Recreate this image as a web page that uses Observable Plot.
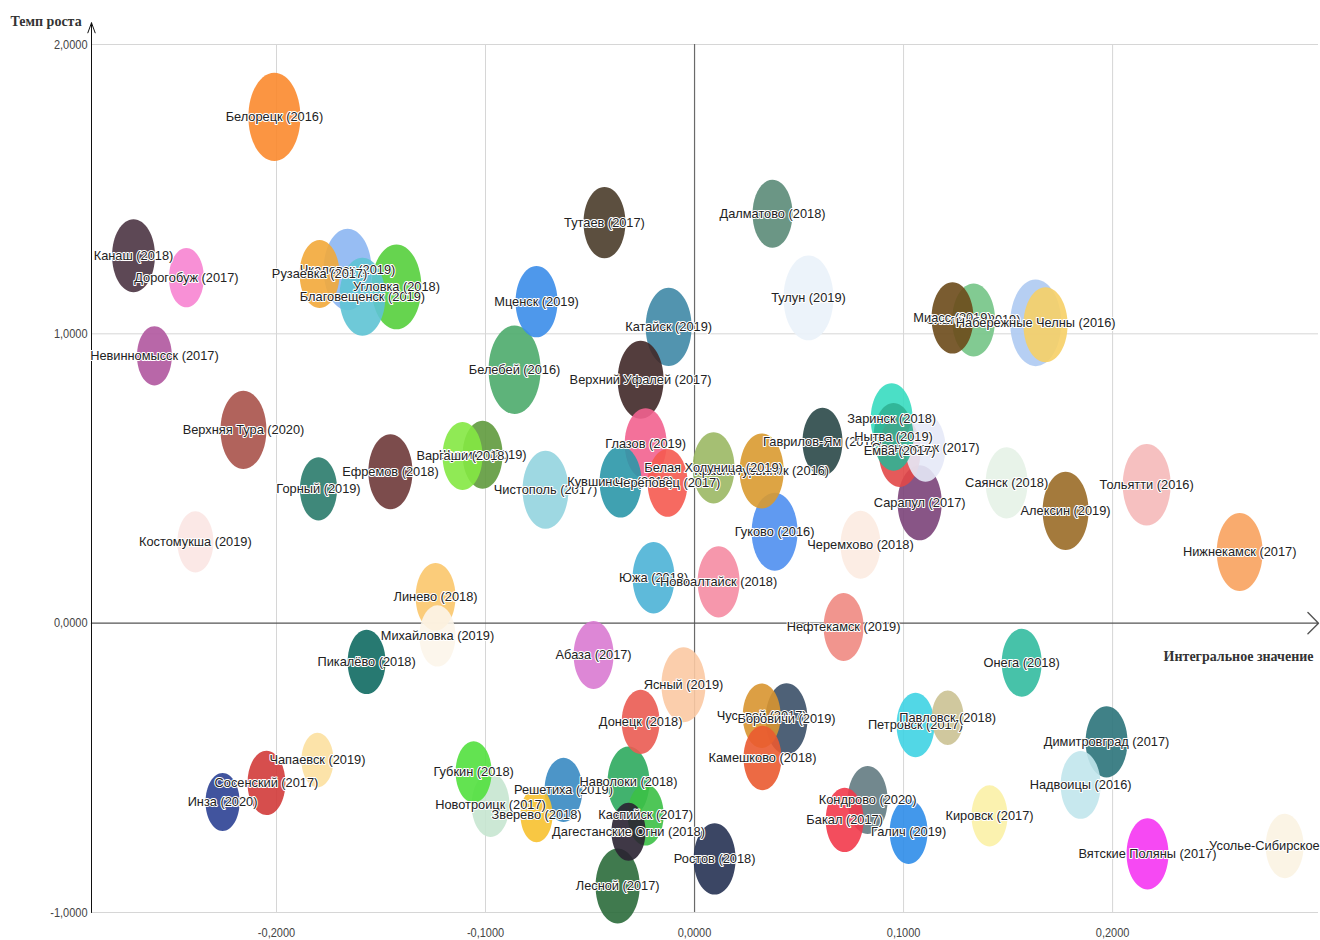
<!DOCTYPE html>
<html><head><meta charset="utf-8">
<script src="https://cdn.jsdelivr.net/npm/d3@7"></script>
<script src="https://cdn.jsdelivr.net/npm/@observablehq/plot@0.6"></script>
<style>html,body{margin:0;padding:0;background:#fff;overflow:hidden}</style>
</head><body><div id="chart"></div>
<script>
// ---- data ----
const xTitle = "Интегральное значение";
const yTitle = "Темп роста";
const xTicks = [-0.2, -0.1, 0, 0.1, 0.2];
const yTicks = [-1, 0, 1, 2];
const xDomain = [-0.2885, 0.2985];
const yDomain = [-1, 2];
const yArrowTop = 2.075;

const names = ["Белорецк","Канаш","Дорогобуж","Чкаловск","Рузаевка","Благовещенск","Угловка","Невинномысск","Верхняя Тура","Горный",
"Ефремов","Костомукша","Шумиха","Варгаши","Чистополь","Линево","Белебей","Мценск","Тутаев","Катайск",
"Верхний Уфалей","Глазов","Кувшиново","Череповец","Краснотурьинск","Белая Холуница","Гаврилов-Ям","Заринск","Сосногорск","Нытва",
"Емва","Сарапул","Саянск","Гуково","Черемхово","Тольятти","Алексин","Нижнекамск","Златоуст","Миасс",
"","Набережные Челны","Тулун","Далматово","Южа","Новоалтайск","Нефтекамск","Михайловка","Пикалёво","Абаза",
"Ясный","Донецк","Чусовой","Боровичи","Камешково","Губкин","Новотроицк","Зверево","Решетиха","Наволоки",
"Каспийск","Дагестанские Огни","Лесной","Ростов","Бакал","Кондрово","Галич","Петровск","Павловск","Кировск",
"Онега","Димитровград","Надвоицы","Вятские Поляны","Усолье-Сибирское","Чапаевск","Сосенский","Инза"];
const years = [2016,2018,2017,2019,2017,2019,2018,2017,2020,2019,
2018,2019,2019,2018,2017,2018,2016,2019,2017,2019,
2017,2019,2018,2017,2016,2019,2018,2018,2017,2019,
2017,2017,2018,2016,2018,2016,2019,2017,2019,2019,
2016,2016,2019,2018,2018,2018,2019,2019,2018,2017,
2019,2018,2017,2019,2018,2018,2017,2018,2019,2018,
2017,2018,2017,2018,2017,2020,2019,2017,2018,2017,
2018,2017,2016,2017,2017,2019,2017,2020];
const integralValues = [-0.2010,-0.2684,-0.2431,-0.1660,-0.1794,-0.1589,-0.1426,-0.2584,-0.2158,-0.1799,
-0.1455,-0.2388,-0.1014,-0.1110,-0.0713,-0.1239,-0.0861,-0.0756,-0.0431,-0.0124,
-0.0258,-0.0234,-0.0354,-0.0129,0.0321,0.0091,0.0612,0.0943,0.1105,0.0952,
0.0981,0.1077,0.1493,0.0383,0.0794,0.2163,0.1775,0.2608,0.1335,0.1234,
0.1679,0.1632,0.0545,0.0373,-0.0196,0.0115,0.0713,-0.1230,-0.1569,-0.0483,
-0.0053,-0.0258,0.0321,0.0440,0.0325,-0.1057,-0.0976,-0.0756,-0.0627,-0.0316,
-0.0234,-0.0316,-0.0368,0.0096,0.0718,0.0828,0.1024,0.1057,0.1211,0.1411,
0.1565,0.1971,0.1847,0.2167,0.2823,-0.1804,-0.2048,-0.2258];
const growthValues = [1.750,1.270,1.194,1.222,1.207,1.128,1.162,0.924,0.668,0.464,
0.523,0.281,0.582,0.578,0.461,0.091,0.876,1.111,1.384,1.024,
0.841,0.620,0.488,0.485,0.526,0.537,0.627,0.706,0.606,0.644,
0.594,0.416,0.485,0.316,0.271,0.478,0.388,0.246,1.048,1.055,
1.031,1.038,1.124,1.415,0.157,0.143,-0.013,-0.044,-0.134,-0.110,
-0.213,-0.341,-0.320,-0.331,-0.466,-0.514,-0.628,-0.663,-0.576,-0.549,
-0.663,-0.721,-0.908,-0.815,-0.680,-0.611,-0.721,-0.352,-0.327,-0.666,
-0.137,-0.410,-0.559,-0.797,-0.770,-0.473,-0.552,-0.618];
const bubbleSizes = [100,68,45,85,59,78,92,45,78,51,
72,48,59,59,78,59,100,65,65,78,
78,65,65,59,72,65,59,65,59,59,
65,72,65,78,59,85,78,78,68,65,
72,96,92,59,65,65,59,48,53,59,
72,53,53,65,53,48,53,38,53,65,
48,43,72,65,53,59,53,53,38,48,
59,65,59,65,53,38,53,43];
const palette = ["#fb8a2e","#4b3442","#f784d2","#8cb6f2","#f2a93a","#5ec3d4","#55cf3c","#b0569f","#a9524a","#2a7b6b",
"#6e3838","#fbe6e3","#5f9a3d","#84e843","#93d4df","#fbc76c","#4cab6b","#3b8de9","#4a3c2a","#3f88a6",
"#402828","#f2628f","#2b97a8","#f55a50","#d99a30","#9bb864","#2a4848","#37dcc0","#e6e9f7","#2fb393",
"#e24848","#7b4379","#e5f2e7","#4f8ff0","#fcebe1","#f5b9b9","#9a6b27","#f8a25e","#74c486","#6b4a1a",
"#f6cf66","#aecaf2","#eaf2fa","#5b8b78","#4db3d6","#f58ca3","#f08a82","#fcf5ea","#0f6a62","#d97ad2",
"#fbc9a3","#ea5b52","#d89530","#3b5068","#ea5a30","#52e03e","#c6e5d0","#f7c12f","#3989c2","#2eaa5e",
"#3cc046","#2a2232","#2b6b3b","#263253","#f23a4b","#637b82","#2f8de9","#3fd3e3","#cbc294","#fbf1a6",
"#33bba0","#2b737a","#c1e5ec","#f535f2","#fbf3e2","#fce0a0","#d23b3a","#2c4193"];

// ---- build ----
const rows = names.map((name, i) => ({
  i, name,
  label: name ? `${name} (${years[i]})` : "",
  x: integralValues[i], y: growthValues[i], size: bubbleSizes[i]
}));
const fmt = d => d.toFixed(4).replace(".", ",");

const ellipse = {
  draw(context, size) {
    const rx = Math.sqrt(size / Math.PI), ry = rx * 1.7, k = 0.5522847498;
    context.moveTo(rx, 0);
    context.bezierCurveTo(rx, ry * k, rx * k, ry, 0, ry);
    context.bezierCurveTo(-rx * k, ry, -rx, ry * k, -rx, 0);
    context.bezierCurveTo(-rx, -ry * k, -rx * k, -ry, 0, -ry);
    context.bezierCurveTo(rx * k, -ry, rx, -ry * k, rx, 0);
    context.closePath();
  }
};

const serif = "'Liberation Serif','Times New Roman',serif";
const chart = Plot.plot({
  width: 1320, height: 940,
  marginLeft: 91, marginRight: 2, marginTop: 44, marginBottom: 28,
  style: {fontFamily: "'Liberation Sans', Arial, sans-serif", background: "#fff"},
  x: {domain: xDomain},
  y: {domain: yDomain},
  r: {type: "sqrt", domain: [0, 100], range: [0, 26]},
  color: {type: "ordinal", domain: rows.map(d => d.i), range: palette},
  marks: [
    Plot.gridX(xTicks.filter(t => t !== 0), {stroke: "#d6d6d6", strokeOpacity: 1}),
    Plot.gridY(yTicks.filter(t => t !== 0), {stroke: "#d6d6d6", strokeOpacity: 1}),
    Plot.ruleX([0], {stroke: "#6a6a6a", strokeWidth: 1.2}),
    Plot.arrow([{x1: xDomain[0], x2: xDomain[1], y: 0}], {x1: "x1", x2: "x2", y1: "y", y2: "y", stroke: "#555", strokeWidth: 1.4, headAngle: 90, headLength: 16}),
    Plot.arrow([{x: xDomain[0], y1: yDomain[0], y2: yArrowTop}], {x1: "x", x2: "x", y1: "y1", y2: "y2", stroke: "#111", strokeWidth: 1, headAngle: 40, headLength: 16}),
    Plot.axisX(xTicks, {tickSize: 0, tickPadding: 15, tickFormat: fmt, fontSize: 11, color: "#444", label: null}),
    Plot.axisY(yTicks, {tickSize: 0, tickPadding: 4, tickFormat: fmt, fontSize: 11, color: "#444", label: null}),
    Plot.dot(rows, {x: "x", y: "y", r: "size", fill: "i", fillOpacity: 0.9, symbol: ellipse}),
    Plot.text(rows.filter(d => d.label), {x: "x", y: "y", text: "label", fontSize: 12.8, fill: "#222",
      stroke: "white", strokeWidth: 2, paintOrder: "stroke", strokeLinejoin: "round", ariaLabel: "bubble-labels"}),
    Plot.text([yTitle], {frameAnchor: "top-left", dx: -81, dy: -23, textAnchor: "start", lineAnchor: "middle",
      fontWeight: "bold", fontSize: 14, fontFamily: serif, fill: "#333", ariaLabel: "axis-title"}),
    Plot.text([xTitle], {frameAnchor: "right", dx: -5, dy: 178, textAnchor: "end", lineAnchor: "middle",
      fontWeight: "bold", fontSize: 14, fontFamily: serif, fill: "#333", ariaLabel: "axis-title"})
  ]
});

// the reference is stretched vertically: stretch the glyphs the same way (position kept)
function stretch(root, sel, k) {
  root.querySelectorAll(sel).forEach(t => {
    const tr = t.getAttribute("transform") || "";
    t.setAttribute("transform", `${tr} scale(1,${k})`);
  });
}
stretch(chart, 'g[aria-label="bubble-labels"] text', 1.45);
stretch(chart, 'g[aria-label$="tick label"] text', 1.2);
stretch(chart, 'g[aria-label="axis-title"] text', 1.25);

document.getElementById("chart").appendChild(chart);
</script></body></html>
